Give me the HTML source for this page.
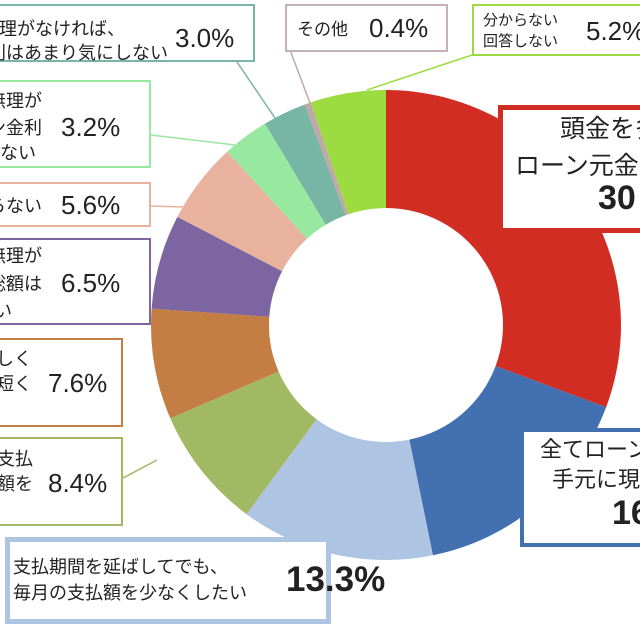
<!DOCTYPE html>
<html><head><meta charset="utf-8">
<style>
body{margin:0;width:640px;height:635px;overflow:hidden;background:#fff;position:relative;font-family:"Liberation Sans","Noto Sans CJK JP",sans-serif;color:#222}
.b{position:absolute;background:#fff;box-sizing:border-box;overflow:hidden}
.t{position:absolute;white-space:nowrap;line-height:1;font-family:"Noto Sans CJK JP",sans-serif}
.p{position:absolute;white-space:nowrap;line-height:1;font-family:"Liberation Sans",sans-serif}
</style></head><body>
<svg width="640" height="635" style="position:absolute;left:0;top:0">
<g stroke-width="1.5" fill="none">
<line x1="237" y1="62" x2="275" y2="118" stroke="#77b5a5"/>
<line x1="151" y1="135" x2="235" y2="145" stroke="#98e8a0"/>
<line x1="151" y1="206" x2="183" y2="207" stroke="#e8b29e"/>
<line x1="290" y1="50" x2="310" y2="103" stroke="#c0a8a8"/>
<line x1="472" y1="55" x2="367" y2="90" stroke="#9ddc41"/>
<line x1="123" y1="478" x2="157" y2="460" stroke="#a2b964"/>
</g>
<path d="M386 90A235 235 0 0 1 606.1 407.3L495.6 366A117 117 0 0 0 386 208Z" fill="#d12d23"/>
<path d="M606.1 407.3A235 235 0 0 1 432.9 555.3L409.3 439.6A117 117 0 0 0 495.6 366Z" fill="#4370b0"/>
<path d="M432.9 555.3A235 235 0 0 1 246.6 514.2L316.6 419.2A117 117 0 0 0 409.3 439.6Z" fill="#adc4e2"/>
<path d="M246.6 514.2A235 235 0 0 1 170.3 418.3L278.6 371.5A117 117 0 0 0 316.6 419.2Z" fill="#a2b964"/>
<path d="M170.3 418.3A235 235 0 0 1 151.6 308.6L269.3 316.8A117 117 0 0 0 278.6 371.5Z" fill="#c47e43"/>
<path d="M151.6 308.6A235 235 0 0 1 177.4 216.9L282.1 271.2A117 117 0 0 0 269.3 316.8Z" fill="#7c65a0"/>
<path d="M177.4 216.9A235 235 0 0 1 227.2 151.7L307 238.7A117 117 0 0 0 282.1 271.2Z" fill="#e8b29e"/>
<path d="M227.2 151.7A235 235 0 0 1 265 123.6L325.7 224.7A117 117 0 0 0 307 238.7Z" fill="#98e8a0"/>
<path d="M265 123.6A235 235 0 0 1 304.9 104.5L345.6 215.2A117 117 0 0 0 325.7 224.7Z" fill="#77b5a5"/>
<path d="M304.9 104.5A235 235 0 0 1 310.7 102.4L348.5 214.2A117 117 0 0 0 345.6 215.2Z" fill="#c0a8a8"/>
<path d="M310.7 102.4A235 235 0 0 1 386 90L386 208A117 117 0 0 0 348.5 214.2Z" fill="#9ddc41"/>
</svg>

<div class="b" style="left:-3px;top:4px;width:258px;height:58px;border:2px solid #77b5a5"></div>
<div class="t" style="right:515px;top:19px;font-size:18px">無理がなければ、</div>
<div class="t" style="right:472px;top:43px;font-size:18px">金利はあまり気にしない</div>
<div class="p" style="left:175px;top:25px;font-size:26px">3.0%</div>

<div class="b" style="left:-3px;top:80px;width:154px;height:88px;border:2px solid #98e8a0"></div>
<div class="t" style="right:598px;top:91px;font-size:18px">無理が</div>
<div class="t" style="right:598px;top:118px;font-size:18px">ン金利</div>
<div class="t" style="right:604px;top:143px;font-size:18px">ない</div>
<div class="p" style="left:61px;top:114px;font-size:26px">3.2%</div>

<div class="b" style="left:-3px;top:182px;width:154px;height:45px;border:2px solid #e8b29e"></div>
<div class="t" style="right:598px;top:196px;font-size:18px">らない</div>
<div class="p" style="left:61px;top:192px;font-size:26px">5.6%</div>

<div class="b" style="left:-3px;top:238px;width:154px;height:87px;border:2px solid #7c65a0"></div>
<div class="t" style="right:598px;top:246px;font-size:18px">無理が</div>
<div class="t" style="right:598px;top:274px;font-size:18px">総額は</div>
<div class="t" style="right:628px;top:301px;font-size:18px">い</div>
<div class="p" style="left:61px;top:270px;font-size:26px">6.5%</div>

<div class="b" style="left:-3px;top:338px;width:126px;height:89px;border:2px solid #c47e43"></div>
<div class="t" style="right:608px;top:349px;font-size:18px">厳しく</div>
<div class="t" style="right:608px;top:374px;font-size:18px">を短く</div>
<div class="p" style="left:48px;top:370px;font-size:26px">7.6%</div>

<div class="b" style="left:-3px;top:437px;width:126px;height:89px;border:2px solid #a2b964"></div>
<div class="t" style="right:607px;top:449px;font-size:18px">て支払</div>
<div class="t" style="right:607px;top:474px;font-size:18px">払額を</div>
<div class="p" style="left:48px;top:470px;font-size:26px">8.4%</div>

<div class="b" style="left:285px;top:4px;width:163px;height:48px;border:2px solid #c8b0b8"></div>
<div class="t" style="left:297px;top:19px;font-size:17px">その他</div>
<div class="p" style="left:369px;top:15px;font-size:26px">0.4%</div>

<div class="b" style="left:472px;top:4px;width:168px;height:52px;border:2px solid #9ddc41;border-right:none"></div>
<div class="t" style="left:483px;top:12px;font-size:15px">分からない</div>
<div class="t" style="left:483px;top:33px;font-size:15px">回答しない</div>
<div class="p" style="left:586px;top:18px;font-size:26px">5.2%</div>

<div class="b" style="left:498px;top:105px;width:142px;height:128px;border:5px solid #d12d23;border-right:none"></div>
<div class="t" style="left:560px;top:115px;font-size:25px">頭金を多</div>
<div class="t" style="left:515px;top:152px;font-size:25px">ローン元金を</div>
<div class="p" style="left:598px;top:181px;font-size:34px;font-weight:bold">30</div>

<div class="b" style="left:520px;top:428px;width:120px;height:119px;border:4px solid #4370b0;border-right:none"></div>
<div class="t" style="left:540px;top:437px;font-size:22px">全てローン</div>
<div class="t" style="left:552px;top:467px;font-size:22px">手元に現</div>
<div class="p" style="left:612px;top:496px;font-size:34px;font-weight:bold">16</div>

<div class="b" style="left:5px;top:537px;width:326px;height:87px;border:5px solid #adc4e2"></div>
<div class="t" style="left:13px;top:557px;font-size:18px">支払期間を延ばしてでも、</div>
<div class="t" style="left:13px;top:583px;font-size:18px">毎月の支払額を少なくしたい</div>
<div class="p" style="left:286px;top:562px;font-size:35px;font-weight:bold">13.3%</div>
</body></html>
